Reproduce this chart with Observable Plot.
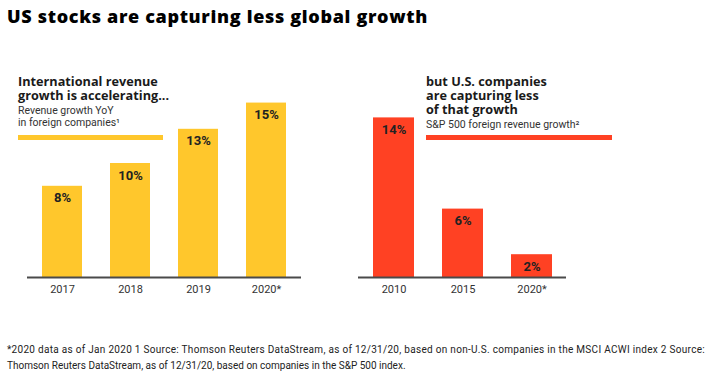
<!DOCTYPE html>
<html><head><meta charset="utf-8">
<script src="https://cdn.jsdelivr.net/npm/d3@7"></script>
<script src="https://cdn.jsdelivr.net/npm/@observablehq/plot@0.6"></script>
<style>
body{margin:0;background:#fff;font-family:Roboto,"Noto Sans",sans-serif;color:#111;}
#wrap{position:relative;width:709px;height:378px;overflow:hidden;background:#fff;}
#title{position:absolute;left:7px;top:5px;font-family:"Open Sans",sans-serif;font-size:18px;line-height:22px;font-weight:800;color:#000;white-space:nowrap;z-index:2;}
.head{position:absolute;z-index:2;white-space:nowrap;}
.head .h{font-family:"Open Sans",sans-serif;font-size:12.7px;line-height:14px;font-weight:700;color:#1a1a1a;}
.head .s{font-size:10.5px;line-height:12px;color:#333;margin-top:3px;}
.head .bar{height:5px;}
#headL{left:18px;top:74px;}
#headR{left:426px;top:74px;}
.plot{position:absolute;top:60px;z-index:1;}
#plotL{left:0;}
#plotR{left:340px;}
#foot{position:absolute;left:7px;top:342px;font-size:10px;line-height:16px;color:#222;white-space:nowrap;z-index:2;}
#foot span{display:inline-block;}
</style></head><body>
<div id="wrap">
  <div id="title"><span id="titleText">US stocks are capturing less global growth</span></div>
  <div class="head" id="headL">
    <div class="h">International revenue<br>growth is accelerating...</div>
    <div class="s">Revenue growth YoY<br>in foreign companies¹</div>
    <div class="bar" style="margin-top:6px;width:145px;background:#FFC72C"></div>
  </div>
  <div class="head" id="headR">
    <div class="h">but U.S. companies<br>are capturing less<br>of that growth</div>
    <div class="s">S&amp;P 500 foreign revenue growth²</div>
    <div class="bar" style="margin-top:4px;width:186px;background:#FF4123"></div>
  </div>
  <div class="plot" id="plotL"></div>
  <div class="plot" id="plotR"></div>
  <div id="foot"><span id="foot1">*2020 data as of Jan 2020 1 Source: Thomson Reuters DataStream, as of 12/31/20, based on non-U.S. companies in the MSCI ACWI index 2 Source:</span><br><span id="foot2">Thomson Reuters DataStream, as of 12/31/20, based on companies in the S&amp;P 500 index.</span></div>
</div>
<script>
const leftYears = ["2017", "2018", "2019", "2020*"];
const leftValues = [8, 10, 13, 15.3];
const rightYears = ["2010", "2015", "2020*"];
const rightValues = [14, 6, 2];

const yellow = "#FFC72C";
const red = "#FF4123";

function panel(years, values, color, width, mLeft, mRight) {
  const data = years.map((year, i) => ({year, value: values[i]}));
  return Plot.plot({
    width,
    height: 245,
    marginTop: 34.6,
    marginBottom: 28,
    marginLeft: mLeft,
    marginRight: mRight,
    style: {background: "transparent", fontFamily: "Roboto, sans-serif"},
    x: {domain: years, paddingInner: 0.41, paddingOuter: 0.2, label: null},
    y: {domain: [0, 16], axis: null},
    marks: [
      Plot.barY(data, {x: "year", y: "value", fill: color}),
      Plot.ruleY([0], {stroke: "#4a4a4a", strokeWidth: 2}),
      Plot.text(data, {x: "year", y: "value", text: d => Math.round(d.value) + "%", dy: 12, fontSize: 13, fontWeight: 700, fill: "#222"}),
      Plot.axisX({tickSize: 0, tickPadding: 8, fontSize: 11, color: "#333", label: null})
    ]
  });
}

document.getElementById("plotL").append(panel(leftYears, leftValues, yellow, 340, 27, 39));
document.getElementById("plotR").append(panel(rightYears, rightValues, red, 369, 18, 143));

function fit(id, target) {
  const el = document.getElementById(id);
  const w = el.getBoundingClientRect().width;
  const n = el.textContent.length;
  el.style.letterSpacing = ((target - w) / n) + "px";
}
fit("titleText", 421);
fit("foot1", 698);
</script>
</body></html>
